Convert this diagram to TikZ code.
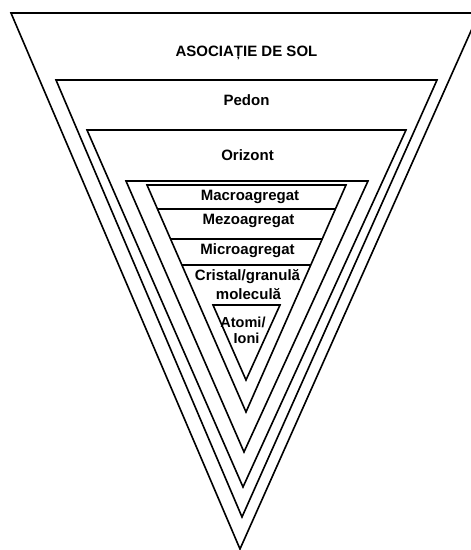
\documentclass[tikz,border=0pt]{standalone}
\usepackage{fontspec}
\setmainfont{Liberation Sans}
\begin{document}
\begin{tikzpicture}[x=1pt,y=-1pt,
  shell/.style={draw=black,line width=1.6pt,line join=miter},
  divider/.style={draw=black,line width=1.3pt},
  lbl/.style={font=\bfseries\fontsize{15}{17}\selectfont,inner sep=0pt,align=center},
  lblsmall/.style={font=\bfseries\fontsize{14.5}{16}\selectfont,inner sep=0pt,align=center}]
\useasboundingbox (0,0) rectangle (471,550);
\clip (0,0) rectangle (471,550);
% outer: asociatie de sol
\coordinate (a1) at (11,13);   \coordinate (a2) at (479,13);  \coordinate (a3) at (240,549);
\coordinate (p1) at (56,80);   \coordinate (p2) at (437,80);  \coordinate (p3) at (242,517);
\coordinate (o1) at (87,130);  \coordinate (o2) at (406,130); \coordinate (o3) at (243,487);
\coordinate (g1) at (126,181); \coordinate (g2) at (368,181); \coordinate (g3) at (244,452);
\coordinate (h1) at (147,185); \coordinate (h2) at (346,185); \coordinate (h3) at (246,412);
\coordinate (t1) at (213,305); \coordinate (t2) at (280,305); \coordinate (t3) at (246,380);
\draw[shell] (a1) -- (a2) -- (a3) -- cycle;
\draw[shell] (p1) -- (p2) -- (p3) -- cycle;
\draw[shell] (o1) -- (o2) -- (o3) -- cycle;
\draw[shell] (g1) -- (g2) -- (g3) -- cycle;
\draw[shell] (h1) -- (h2) -- (h3) -- cycle;
\draw[shell] (t1) -- (t2) -- (t3) -- cycle;
% dividers inside the aggregate triangle
\coordinate (d1l) at (157.5,209); \coordinate (d1r) at (335.4,209);
\coordinate (d2l) at (170.5,239); \coordinate (d2r) at (322.2,239);
\coordinate (d3l) at (181.9,265); \coordinate (d3r) at (310.8,265);
\draw[divider] (d1l) -- (d1r);
\draw[divider] (d2l) -- (d2r);
\draw[divider] (d3l) -- (d3r);
% labels
\node[lbl] (asoc) at (246.5,53) {ASOCIAȚIE DE SOL};
\node[lbl] (pedon) at (246.5,100) {Pedon};
\node[lbl] (oriz) at (247.5,155) {Orizont};
\node[lbl] (macro) at (250,197) {Macroagregat};
\node[lbl] (mezo) at (248.5,221) {Mezoagregat};
\node[lbl] (micro) at (247.5,251) {Microagregat};
\node[lbl] (crist) at (247.5,277) {Cristal/granulă};
\node[lbl] (molec) at (248.5,294) {moleculă};
\node[lblsmall] (atomi) at (243,322) {Atomi/};
\node[lblsmall] (ioni) at (246.5,338) {Ioni};
\end{tikzpicture}
\end{document}
